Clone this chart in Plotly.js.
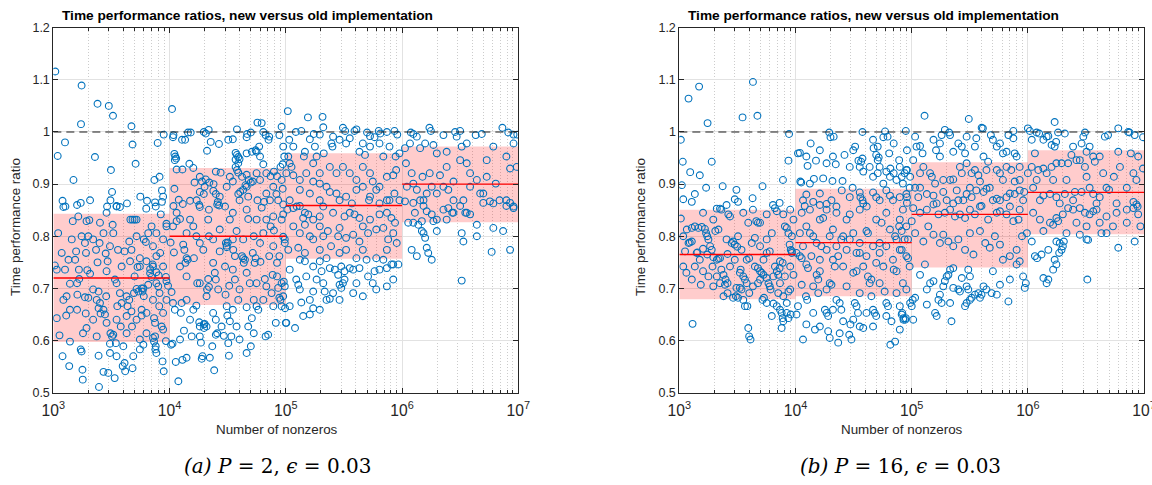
<!DOCTYPE html>
<html>
<head>
<meta charset="utf-8">
<script src="https://cdn.plot.ly/plotly-3.0.1.min.js"></script>
<style>
html,body{margin:0;padding:0;background:#fff;}
#chart{width:1152px;height:485px;}
</style>
</head>
<body>
<div id="chart"></div>
<script>
// ---------- data ----------
const chartTitle = "Time performance ratios, new versus old implementation";
const xLabel = "Number of nonzeros";
const yLabel = "Time performance ratio";
const captionA = "<i>(a) P</i> = 2, <i>ϵ</i> = 0.03";
const captionB = "<i>(b) P</i> = 16, <i>ϵ</i> = 0.03";

const binEdges = [1e3, 1e4, 1e5, 1e6, 1e7];
const refRatio = [1, 1];

const medianA = [0.720, 0.800, 0.859, 0.900];
const lowerA  = [0.597, 0.668, 0.757, 0.827];
const upperA  = [0.843, 0.931, 0.959, 0.972];

const medianB = [0.765, 0.788, 0.842, 0.884];
const lowerB  = [0.679, 0.685, 0.740, 0.804];
const upperB  = [0.851, 0.891, 0.942, 0.965];

// [nonzeros, ratio] for P = 2
const pointsA = [
[1.04e3,1.116],[1.75e3,1.089],[2.4e3,1.054],[3.0e3,1.050],[3.26e3,1.031],[1.73e3,1.015],[4.7e3,1.011],[1.09e3,0.954],[1.26e3,0.980],[2.28e3,0.952],
[3.13e3,0.927],[4.8e3,0.976],[5.1e3,0.939],[1.49e3,0.908],[3.2e3,0.885],[1.72e3,0.864],[1.2e3,0.868],[6.4e3,0.868],[7.4e3,0.908],[8.2e3,0.914],
[7.9e3,0.979],[8.9e3,0.995],[8.6e3,0.888],[8.8e3,0.876],[7.5e3,0.865],[2.9e3,0.857],[3.5e3,0.857],[1.27e3,0.857],[7.6e3,0.857],[8.6e3,0.866],
[1.05e4,1.044],[1.08e4,0.994],[1.07e4,0.990],[1.1e4,0.958],[1.12e4,0.953],[1.14e4,0.949],[1.11e4,0.946],[1.1e4,0.891],[1.15e4,0.928],[1.29e4,0.928],
[1.28e4,0.985],[1.36e4,0.985],[1.44e4,0.999],[1.52e4,0.999],[1.48e4,0.939],[1.6e4,0.931],[1.64e4,0.903],[1.82e4,0.914],[1.9e4,0.905],[2.05e4,0.909],
[2.2e4,0.903],[2.39e4,0.900],[1.97e4,1.0],[2.05e4,0.997],[2.17e4,1.004],[2.1e4,0.964],[2.26e4,0.981],[2.66e4,0.977],[2.38e4,0.887],[2.5e4,0.881],
[1.97e4,0.881],[2.5e4,0.924],[2.75e4,0.922],[3.2e4,0.985],[3.5e4,0.986],[3.8e4,1.005],[3.7e4,0.960],[3.8e4,0.956],[3.9e4,0.952],[3.7e4,0.947],
[4.0e4,0.948],[3.9e4,0.940],[3.7e4,0.933],[3.8e4,0.927],[3.9e4,0.922],[4.65e4,0.996],[4.6e4,0.990],[5.0e4,0.999],[4.6e4,0.959],[5.1e4,0.962],
[5.5e4,0.965],[4.2e4,0.914],[4.6e4,0.918],[4.8e4,0.908],[5.0e4,0.903],[4.5e4,0.898],[4.6e4,0.895],[4.3e4,0.889],[4.05e4,0.885],[3.9e4,0.881],
[5.7e4,1.018],[6.2e4,1.017],[6.4e4,1.0],[6.7e4,0.994],[7.2e4,0.991],[7.1e4,0.985],[5.9e4,0.972],[5.6e4,0.962],[6.0e4,0.953],[6.4e4,0.938],
[6.8e4,0.921],[7.4e4,0.915],[7.9e4,0.924],[8.4e4,0.915],[9.0e4,0.933],[9.4e4,0.938],[9.7e4,0.953],[9.2e4,1.010],[1.04e5,1.040],[5.7e4,0.869],
[6.5e4,0.866],[7.3e4,0.869],[8.3e4,0.881],[9.4e4,0.891],[8.8e4,0.994],[9.5e4,0.972],[1.3e4,0.862],[1.5e4,0.868],[1.8e4,0.860],[2.6e4,0.866],
[3.0e4,0.857],[1.08e4,0.858],[1.2e4,0.870],
[1.22e5,1.0],[1.36e5,1.002],[1.74e5,0.996],[1.96e5,0.995],[3.1e5,1.008],[3.24e5,1.002],[3.9e5,1.002],[4.05e5,1.005],[5.0e5,0.999],[5.3e5,0.992],
[6.3e5,1.002],[6.5e5,0.997],[7.4e5,1.0],[8.6e5,1.002],[9.1e5,0.995],[1.19e6,0.999],[1.25e6,0.996],[1.72e6,1.008],[1.77e6,1.002],[2.27e6,0.994],
[2.86e6,1.0],[3.16e6,1.002],[4.3e6,0.994],[4.85e6,0.996],[7.3e6,1.008],[8.2e6,0.999],[9.1e6,0.995],[9.8e6,0.995],[1.55e5,1.028],[2.07e5,1.029],
[2.1e5,1.009],
[1.07e5,0.985],[1.16e5,0.972],[1.05e5,0.953],[1.08e5,0.940],[1.01e5,0.921],[1.16e5,0.917],[1.12e5,0.933],[1.46e5,0.962],[1.43e5,0.953],[1.78e5,0.972],
[1.61e5,0.986],[1.84e5,0.953],[2.12e5,0.959],[2.47e5,0.978],[2.39e5,0.933],[2.55e5,0.991],[2.52e5,0.972],[2.9e5,0.985],[3.3e5,0.978],[3.55e5,0.988],
[4.3e5,0.962],[4.6e5,0.978],[4.8e5,0.956],[5.3e5,0.972],[5.8e5,0.990],[6.4e5,0.978],[6.9e5,0.953],[7.8e5,0.972],[9.5e5,0.959],[8.8e5,0.953],
[1.06e6,0.969],[1.17e6,0.978],[1.34e6,0.991],[1.43e6,0.969],[1.58e6,0.978],[1.86e6,0.975],[1.99e6,0.959],[2.42e6,0.962],[2.95e6,0.991],[3.26e6,0.972],
[3.6e6,0.978],[6.1e6,0.972],[9.1e6,0.978],
[1.72e5,0.940],[1.96e5,0.921],[1.5e5,0.921],[1.32e5,0.908],[1.72e5,0.905],[1.96e5,0.901],[2.24e5,0.895],[2.73e5,0.921],[3.1e5,0.933],[3.55e5,0.921],
[4.05e5,0.908],[4.6e5,0.933],[5.3e5,0.921],[5.6e5,0.905],[6.4e5,0.895],[7.4e5,0.914],[8.4e5,0.917],[8.9e5,0.927],[1.08e6,0.940],[1.21e6,0.921],
[1.25e6,0.901],[1.34e6,0.889],[1.5e6,0.914],[1.53e6,0.869],[1.63e6,0.882],[1.8e6,0.895],[1.99e6,0.882],[2.12e6,0.917],[2.42e6,0.933],[2.5e6,0.889],
[2.77e6,0.905],[3.16e6,0.946],[3.6e6,0.940],[3.85e6,0.895],[4.4e6,0.908],[4.7e6,0.882],[5.35e6,0.914],[6.1e6,0.863],[8.5e6,0.930],[9.7e6,0.933],
[9.1e6,0.857],[7.9e6,0.869],[1.32e5,0.889],[1.61e5,0.882],[2.39e5,0.885],[3.3e5,0.876],[4.05e5,0.889],[5.2e5,0.869],[6.4e5,0.863],[7.8e5,0.869],
[2.9e5,0.869],[1.96e5,0.869],
[1.03e3,0.744],[1.07e3,0.736],[1.07e3,0.643],[1.13e3,0.610],[1.22e3,0.856],[1.26e3,0.736],[1.22e3,0.678],[1.3e3,0.685],[1.29e3,0.648],[1.39e3,0.709],
[1.37e3,0.551],[1.2e3,0.570],[1.39e3,0.598],[1.47e3,0.829],[1.54e3,0.755],[1.57e3,0.771],[1.66e3,0.736],[1.67e3,0.718],[1.61e3,0.688],[1.72e3,0.583],
[1.75e3,0.579],[1.79e3,0.525],[1.78e3,0.544],[1.64e3,0.838],[1.93e3,0.829],[2.04e3,0.831],[1.91e3,0.768],[2.0e3,0.800],[1.96e3,0.735],[2.07e3,0.728],
[1.87e3,0.683],[2.0e3,0.682],[1.9e3,0.652],[1.93e3,0.624],[2.33e3,0.774],[2.4e3,0.750],[2.2e3,0.698],[2.36e3,0.678],[2.52e3,0.672],[2.45e3,0.662],
[2.7e3,0.659],[2.55e3,0.652],[2.45e3,0.694],[2.36e3,0.608],[2.45e3,0.571],[2.47e3,0.511],[2.52e3,0.826],[2.7e3,0.540],[2.87e3,0.845],[2.82e3,0.767],
[2.87e3,0.733],[2.93e3,0.752],[2.85e3,0.685],[2.78e3,0.650],[2.97e3,0.538],[3.24e3,0.822],[3.28e3,0.806],[3.5e3,0.858],[3.74e3,0.856],[3.39e3,0.717],
[3.5e3,0.710],[3.1e3,0.614],[3.28e3,0.611],[3.2e3,0.608],[3.07e3,0.594],[3.45e3,0.595],[3.5e3,0.570],[3.37e3,0.528],[3.74e3,0.691],[3.87e3,0.672],
[3.55e3,0.666],[3.87e3,0.742],[3.8e3,0.627],[4.0e3,0.589],[4.1e3,0.557],[4.15e3,0.541],[3.95e3,0.551],[4.27e3,0.685],[4.5e3,0.678],[4.35e3,0.666],
[4.5e3,0.790],[4.6e3,0.832],[4.8e3,0.832],[5.0e3,0.832],[5.2e3,0.832],[4.57e3,0.752],[4.7e3,0.656],[4.75e3,0.627],[4.87e3,0.570],[4.8e3,0.547],
[4.94e3,0.691],[5.2e3,0.699],[5.4e3,0.694],[5.3e3,0.741],[5.55e3,0.742],[5.0e3,0.723],[5.55e3,0.758],[5.75e3,0.700],[5.95e3,0.700],[5.85e3,0.694],
[6.0e3,0.685],[5.75e3,0.659],[5.75e3,0.648],[5.55e3,0.602],[5.95e3,0.592],[6.0e3,0.794],[6.25e3,0.789],[6.33e3,0.752],[6.55e3,0.707],[6.8e3,0.737],
[6.8e3,0.729],[7.0e3,0.722],[7.15e3,0.746],[7.2e3,0.742],[7.2e3,0.605],[7.5e3,0.608],[7.35e3,0.598],[7.6e3,0.589],[7.55e3,0.583],[7.7e3,0.576],
[7.35e3,0.643],[7.5e3,0.634],[7.7e3,0.710],[8.0e3,0.704],[7.7e3,0.731],[8.05e3,0.725],[8.3e3,0.768],[8.4e3,0.842],[8.15e3,0.666],[8.55e3,0.627],
[8.8e3,0.621],[8.8e3,0.653],[8.7e3,0.560],[8.9e3,0.541],[9.3e3,0.599],[9.4e3,0.714],[9.3e3,0.722],[9.4e3,0.824],[9.4e3,0.819],[9.7e3,0.705],
[1.02e4,0.788],[1.04e4,0.693],[1.03e4,0.592],[1.06e4,0.594],[1.07e4,0.672],[1.11e4,0.659],[1.09e4,0.769],[1.13e4,0.559],[1.19e4,0.522],[1.15e4,0.829],
[1.23e4,0.833],[1.23e4,0.742],[1.25e4,0.653],[1.27e4,0.672],[1.29e4,0.563],[1.33e4,0.619],[1.31e4,0.784],[1.34e4,0.774],[1.4e4,0.758],[1.43e4,0.755],
[1.37e4,0.749],[1.4e4,0.678],[1.4e4,0.567],[1.5e4,0.832],[1.5e4,0.640],[1.55e4,0.608],[1.6e4,0.819],[1.62e4,0.758],[1.73e4,0.710],[1.7e4,0.667],
[1.8e4,0.635],[1.82e4,0.627],[1.82e4,0.787],[1.86e4,0.596],[1.92e4,0.570],[1.89e4,0.565],[1.97e4,0.631],[1.98e4,0.624],[2.0e4,0.632],[2.08e4,0.627],
[2.08e4,0.685],[2.1e4,0.698],[2.18e4,0.703],[2.15e4,0.718],[2.18e4,0.800],[2.15e4,0.832],[2.18e4,0.851],[2.22e4,0.567],[2.33e4,0.589],[2.37e4,0.749],
[2.45e4,0.730],[2.42e4,0.543],[2.5e4,0.611],[2.57e4,0.614],[2.62e4,0.698],[2.67e4,0.859],[2.57e4,0.861],[2.7e4,0.771],[2.8e4,0.627],[2.93e4,0.609],
[3.03e4,0.688],[3.05e4,0.787],[3.1e4,0.782],[3.17e4,0.788],[3.1e4,0.779],[3.0e4,0.742],[3.1e4,0.666],[3.14e4,0.648],[3.2e4,0.595],[3.24e4,0.571],
[3.26e4,0.705],[3.3e4,0.832],[3.3e4,0.637],[3.4e4,0.608],[3.53e4,0.774],[3.65e4,0.762],[3.77e4,0.810],[3.65e4,0.717],[3.77e4,0.627],[3.9e4,0.678],
[4.0e4,0.698],[4.0e4,0.602],[4.2e4,0.762],[4.3e4,0.758],[4.45e4,0.755],[4.35e4,0.749],[4.6e4,0.576],[4.6e4,0.664],[4.75e4,0.627],[4.75e4,0.833],
[4.9e4,0.710],[5.0e4,0.589],[5.1e4,0.643],[5.2e4,0.768],[5.4e4,0.749],[5.5e4,0.758],[5.6e4,0.666],[5.8e4,0.659],[5.6e4,0.832],[6.0e4,0.787],
[6.05e4,0.751],[6.2e4,0.855],[6.4e4,0.678],[6.6e4,0.718],[6.7e4,0.608],[7.05e4,0.611],[6.8e4,0.832],[7.2e4,0.762],[7.4e4,0.819],[7.55e4,0.691],
[7.7e4,0.726],[7.9e4,0.811],[8.2e4,0.634],[8.4e4,0.749],[8.6e4,0.701],[8.8e4,0.682],[9.0e4,0.678],[9.2e4,0.832],[9.5e4,0.842],[9.6e4,0.713],
[9.8e4,0.794],[9.85e4,0.662],[9.5e4,0.861],
[9.5e4,0.799],[9.8e4,0.787],[9.2e4,0.710],[9.8e4,0.704],[9.5e4,0.685],[9.2e4,0.666],[1.0e5,0.634],[1.08e5,0.736],[1.03e5,0.851],[1.16e5,0.854],
[1.32e5,0.858],[1.46e5,0.845],[1.56e5,0.842],[1.41e5,0.835],[1.46e5,0.822],[1.72e5,0.832],[1.96e5,0.838],[2.55e5,0.845],[3.2e5,0.838],[3.55e5,0.845],
[3.9e5,0.842],[4.3e5,0.835],[5.3e5,0.832],[6.4e5,0.842],[7.4e5,0.845],[8.1e5,0.835],[8.7e5,0.826],[1.32e5,0.806],[1.61e5,0.800],[1.72e5,0.794],
[2.1e5,0.800],[2.3e5,0.810],[2.82e5,0.800],[3.3e5,0.797],[3.8e5,0.803],[4.3e5,0.790],[5.1e5,0.806],[6.0e5,0.813],[7.6e5,0.794],[9.0e5,0.787],
[1.05e5,0.774],[1.28e5,0.778],[1.46e5,0.768],[1.96e5,0.774],[2.45e5,0.781],[2.9e5,0.768],[3.3e5,0.774],[4.05e5,0.758],[4.95e5,0.755],[6.0e5,0.758],
[6.9e5,0.755],[8.1e5,0.746],[9.3e5,0.746],[1.46e5,0.752],[1.72e5,0.742],[1.96e5,0.752],[2.03e5,0.733],[2.39e5,0.739],[2.64e5,0.736],[3.0e5,0.742],
[3.2e5,0.733],[2.82e5,0.726],[3.55e5,0.739],[3.8e5,0.736],[4.3e5,0.739],[5.1e5,0.723],[5.8e5,0.733],[6.4e5,0.736],[7.4e5,0.739],[8.4e5,0.746],
[1.23e5,0.717],[1.28e5,0.707],[1.32e5,0.698],[1.72e5,0.694],[2.16e5,0.694],[2.9e5,0.707],[3.0e5,0.701],[3.2e5,0.717],[3.1e5,0.710],[1.08e5,0.666],
[1.36e5,0.673],[1.61e5,0.678],[1.72e5,0.662],[1.96e5,0.659],[2.24e5,0.678],[2.39e5,0.680],[2.9e5,0.678],[1.41e5,0.647],[1.61e5,0.650],[1.2e5,0.624],
[1.01e5,0.634],
[1.13e6,0.826],[1.25e6,0.826],[1.38e6,0.822],[1.48e6,0.810],[1.53e6,0.806],[1.58e6,0.797],[1.86e6,0.829],[1.99e6,0.810],[2.42e6,0.832],[2.77e6,0.845],
[3.26e6,0.806],[3.37e6,0.790],[3.6e6,0.845],[4.4e6,0.822],[6.1e6,0.816],[7.4e6,0.810],[8.5e6,0.774],[1.21e6,0.774],[1.34e6,0.762],[1.63e6,0.778],
[1.68e6,0.768],[1.8e6,0.755],[4.4e6,0.800],[5.9e6,0.770],[3.26e6,0.715],[1.06e6,0.867],[1.25e6,0.864],[1.53e6,0.858],[1.63e6,0.848],[1.8e6,0.842],
[1.99e6,0.832],[2.27e6,0.851],[2.5e6,0.854],[2.7e6,0.845],[3.16e6,0.858],[3.5e6,0.845],[3.85e6,0.842],[5.0e6,0.864],[5.7e6,0.867],[7.9e6,0.858],
[9.1e6,0.854],[8.5e6,0.864],[1.29e6,0.845],[1.48e6,0.829],
[1.71e4,0.869],[1.82e4,0.885],[2.0e4,0.895],[2.7e4,0.876],[3.1e4,0.895],[3.3e4,0.914],[3.5e4,0.905],[4.0e4,0.869],[4.75e4,0.876],[5.2e4,0.905],
[5.6e4,0.921],[6.0e4,0.908],[6.8e4,0.882],[7.8e4,0.895],[8.6e4,0.869],[9.2e4,0.908],[3.1e3,0.869],[4.3e3,0.863],[5.6e3,0.876],[6.3e3,0.853],
[2.07e3,0.869],[1.6e3,0.860],
[1.1e3,0.806],[1.18e3,0.768],[1.35e3,0.755],[1.44e3,0.794],[1.75e3,0.800],[1.87e3,0.787],[2.2e3,0.794],[2.5e3,0.787],[2.7e3,0.806],[3.07e3,0.781],
[3.6e3,0.774],[4.1e3,0.771],[4.7e3,0.774],[5.2e3,0.800],[6.55e3,0.806],[7.2e3,0.781],[7.7e3,0.806],[8.8e3,0.794],[7.0e3,0.819],[7.7e3,0.762],
[8.8e3,0.742],[9.4e3,0.678],[8.2e3,0.691],[7.2e3,0.678],[6.33e3,0.653],[5.2e3,0.640],[4.27e3,0.647],[3.5e3,0.640],[2.87e3,0.634],[2.2e3,0.640],
[1.6e3,0.659],[1.39e3,0.659],[1.8e3,0.614],[3.07e3,0.576],[4.27e3,0.614],[6.33e3,0.614],[5.55e3,0.583],[1.6e3,0.710],
[1.07e4,0.819],[1.4e4,0.806],[1.7e4,0.800],[1.95e4,0.774],[2.37e4,0.794],[2.7e4,0.813],[3.5e4,0.794],[4.3e4,0.794],[5.3e4,0.800],[6.4e4,0.806],
[7.8e4,0.781],[8.8e4,0.762],[1.4e4,0.723],[1.82e4,0.710],[2.5e4,0.717],[3.5e4,0.736],[4.6e4,0.730],[5.6e4,0.710],[6.8e4,0.704],[8.4e4,0.723],
[1.6e4,0.659],[2.37e4,0.653],[3.5e4,0.659],[5.3e4,0.678],[7.8e4,0.666],[2.5e4,0.640],[5.3e4,0.614],[1.82e4,0.608],[1.23e4,0.602],[1.15e4,0.845],
[1.82e4,0.856],[3.5e4,0.845],[4.6e4,0.851],[7.8e4,0.838],
[1.16e5,0.819],[1.96e5,0.819],[2.9e5,0.816],[4.6e5,0.819],[6.9e5,0.816],[8.4e5,0.806],[1.32e5,0.755],[2.24e5,0.758],[4.6e5,0.774],[7.4e5,0.774],
[1.5e5,0.723],[4.05e5,0.710],[5.6e5,0.710],[2.1e5,0.710],[2.55e5,0.691],[3.8e5,0.691],[4.6e5,0.685],[6.0e5,0.698],[7.4e5,0.704],[8.4e5,0.717],
[1.84e5,0.717],[1.08e5,0.869],[1.24e5,0.857],[2.1e5,0.857],[2.73e5,0.882],[3.7e5,0.863],[4.6e5,0.895],[5.3e5,0.876],[6.0e5,0.889],[7.4e5,0.869],
[8.6e5,0.882],[9.5e5,0.869],
[1.1e6,0.895],[1.43e6,0.869],[1.73e6,0.921],[2.27e6,0.895],[3.37e6,0.869],[3.85e6,0.921],[5.0e6,0.882],[6.4e6,0.901],[7.9e6,0.953],[6.9e6,0.869],
[5.35e6,0.946],[2.77e6,0.869]
];

// [nonzeros, ratio] for P = 16
const pointsB = [
[1.03e3,0.985],[1.2e3,1.064],[1.48e3,1.087],[1.75e3,1.017],[1.07e3,0.943],[1.9e3,0.943],[1.24e3,0.923],[1.5e3,0.917],[1.05e3,0.898],[1.08e3,0.871],
[1.36e3,0.881],[1.28e3,0.866],[1.7e3,0.893],[2.36e3,0.896],[3.1e3,0.889],[3.0e3,0.871],[3.2e3,0.866],[4.27e3,0.873],[3.5e3,1.028],[4.3e3,1.096],
[4.7e3,1.031],[5.2e3,0.896],[7.3e3,0.864],[7.8e3,0.908],[8.8e3,0.996],[8.7e3,0.945],[2.1e3,0.853],[2.3e3,0.851],[2.55e3,0.860],[6.4e3,0.860],
[9.0e3,0.851],
[1.05e4,0.959],[1.09e4,0.960],[1.1e4,0.905],[1.12e4,0.903],[1.27e4,0.935],[1.35e4,0.978],[1.5e4,0.945],[1.44e4,0.910],[1.73e4,0.911],[1.95e4,0.999],
[2.0e4,0.990],[2.13e4,0.991],[1.85e4,0.940],[2.22e4,0.938],[2.08e4,0.906],[2.54e4,0.906],[2.64e4,0.956],[3.26e4,0.972],[3.77e4,1.0],[3.48e4,0.945],
[3.67e4,0.943],[3.57e4,0.933],[3.83e4,0.924],[3.77e4,0.949],[4.65e4,0.985],[4.7e4,0.969],[4.95e4,0.956],[5.2e4,0.951],[5.1e4,0.946],[5.1e4,0.972],
[5.9e4,1.001],[6.2e4,0.991],[5.7e4,0.990],[7.0e4,0.978],[6.4e4,0.959],[5.3e4,0.933],[5.1e4,0.921],[6.05e4,0.924],[6.55e4,0.930],[7.0e4,0.921],
[6.5e4,0.914],[7.9e4,0.933],[8.2e4,0.914],[8.7e4,0.921],[9.0e4,0.927],[8.9e4,1.002],[9.1e4,0.965],[7.8e4,0.946],[7.4e4,0.908],[8.4e4,0.901],
[1.24e4,0.880],[1.42e4,0.866],[1.62e4,0.860],[1.85e4,0.862],[2.04e4,0.869],[2.25e4,0.857],[3.1e4,0.893],[3.57e4,0.884],[3.62e4,0.875],[3.77e4,0.869],
[3.83e4,0.863],[4.1e4,0.857],[4.65e4,0.884],[4.95e4,0.875],[5.3e4,0.869],[6.05e4,0.888],[6.5e4,0.878],[6.9e4,0.869],[7.9e4,0.875],[9.0e4,0.881],
[9.6e4,0.893],
[1.29e5,1.031],[3.1e5,1.025],[1.7e6,1.019],[6.0e6,1.007],[1.93e5,1.004],[2.1e5,0.999],[4.0e5,1.008],[4.1e5,1.007],[4.8e5,0.994],[6.8e5,0.994],
[7.5e5,1.002],[1.0e6,1.007],[1.04e6,1.002],[1.19e6,0.999],[1.25e6,0.997],[1.5e6,0.992],[1.82e6,0.999],[2.08e6,0.997],[3.1e6,0.999],[3.0e6,0.991],
[4.6e6,0.991],[4.9e6,0.994],[7.5e6,0.999],[7.3e6,1.0],[8.3e6,0.994],[9.8e6,0.990],
[1.07e5,0.991],[1.1e5,0.972],[1.18e5,0.973],[1.24e5,0.959],[1.54e5,0.985],[1.62e5,0.965],[1.75e5,0.978],[1.81e5,0.994],[2.14e5,0.994],[2.28e5,0.962],
[2.52e5,0.978],[2.7e5,0.972],[2.88e5,0.959],[2.97e5,0.991],[3.5e5,0.972],[3.6e5,0.988],[5.0e5,0.985],[5.4e5,0.972],[5.75e5,0.978],[6.1e5,0.959],
[6.55e5,0.962],[7.5e5,0.988],[7.7e5,0.959],[8.0e5,0.953],[1.08e6,0.985],[1.15e6,0.959],[1.36e6,0.985],[1.45e6,0.991],[1.6e6,0.975],[1.7e6,0.972],
[1.75e6,0.981],[2.45e6,0.972],[2.9e6,0.978],[3.4e6,0.972],[3.2e6,0.962],[3.65e6,0.953],
[1.03e5,0.946],[9.1e4,0.927],[9.7e4,0.914],[1.18e5,0.921],[1.44e5,0.921],[1.49e5,0.914],[1.59e5,0.901],[2.14e5,0.908],[2.28e5,0.909],[2.6e5,0.933],
[2.7e5,0.921],[2.97e5,0.940],[3.28e5,0.921],[3.5e5,0.927],[3.75e5,0.917],[4.4e5,0.927],[4.55e5,0.943],[5.4e5,0.927],[5.75e5,0.921],[6.55e5,0.933],
[7.2e5,0.927],[7.7e5,0.905],[8.5e5,0.908],[9.3e5,0.885],[1.0e6,0.921],[1.08e6,0.933],[1.23e6,0.927],[1.19e6,0.908],[1.36e6,0.930],[1.45e6,0.921],
[1.6e6,0.933],[1.76e6,0.940],[1.95e6,0.940],[2.22e6,0.940],[2.37e6,0.956],[2.62e6,0.946],[2.8e6,0.946],[3.1e6,0.933],[3.2e6,0.914],[3.77e6,0.943],
[4.15e6,0.953],[4.45e6,0.921],[6.0e6,0.962],[8.9e6,0.953],[8.6e6,0.908],[9.8e6,0.930],
[9.1e4,0.875],[1.07e5,0.893],[1.14e5,0.875],[1.35e5,0.881],[1.54e5,0.878],[1.87e5,0.885],[2.0e5,0.869],[2.28e5,0.863],[2.52e5,0.869],[2.97e5,0.881],
[3.28e5,0.875],[3.6e5,0.888],[4.15e5,0.885],[4.4e5,0.891],[5.4e5,0.872],[5.75e5,0.869],[6.55e5,0.875],[7.7e5,0.881],[8.5e5,0.888],[1.36e6,0.878],
[1.55e6,0.881],[1.76e6,0.875],[1.88e6,0.863],[2.08e6,0.881],[2.54e6,0.885],[2.9e6,0.885],[3.65e6,0.881],[3.9e6,0.863],[4.15e6,0.875],[5.0e6,0.889],
[5.8e6,0.863],[8.1e6,0.866],[8.8e6,0.857],
[1.03e3,0.834],[1.12e3,0.771],[1.3e3,0.632],[1.2e3,0.787],[1.23e3,0.788],[1.28e3,0.790],[1.16e3,0.813],[1.28e3,0.816],[1.36e3,0.819],[1.46e3,0.816],
[1.56e3,0.818],[1.66e3,0.814],[1.53e3,0.707],[1.41e3,0.768],[1.43e3,0.769],[1.6e3,0.776],[1.74e3,0.765],[1.84e3,0.781],[1.9e3,0.774],[1.7e3,0.806],
[1.74e3,0.800],[1.78e3,0.794],[1.93e3,0.742],[1.96e3,0.760],[2.1e3,0.755],[2.17e3,0.757],[2.24e3,0.758],[2.04e3,0.810],[2.17e3,0.813],[2.24e3,0.853],
[2.3e3,0.736],[2.4e3,0.726],[2.5e3,0.717],[2.47e3,0.707],[2.6e3,0.710],[2.6e3,0.691],[2.6e3,0.766],[2.73e3,0.838],[2.64e3,0.842],[2.82e3,0.787],
[2.9e3,0.790],[3.0e3,0.784],[3.15e3,0.780],[2.9e3,0.682],[3.07e3,0.685],[3.2e3,0.682],[3.1e3,0.701],[3.32e3,0.701],[3.43e3,0.698],[3.32e3,0.730],
[3.55e3,0.723],[3.37e3,0.736],[3.67e3,0.717],[3.8e3,0.710],[3.8e3,0.755],[3.99e3,0.758],[3.92e3,0.624],[3.99e3,0.608],[4.1e3,0.602],[3.85e3,0.666],
[3.67e3,0.666],[3.92e3,0.826],[4.6e3,0.829],[4.75e3,0.826],[4.95e3,0.826],[4.47e3,0.742],[4.75e3,0.739],[4.95e3,0.733],[5.1e3,0.730],[5.3e3,0.726],
[4.75e3,0.710],[4.95e3,0.717],[5.2e3,0.678],[5.35e3,0.682],[5.65e3,0.768],[6.0e3,0.771],[5.65e3,0.720],[5.85e3,0.710],[6.0e3,0.704],[6.1e3,0.698],
[5.65e3,0.672],[6.45e3,0.671],[6.25e3,0.647],[6.65e3,0.854],[6.9e3,0.848],[6.9e3,0.666],[7.35e3,0.659],[7.6e3,0.653],[7.75e3,0.643],[7.85e3,0.637],
[7.6e3,0.624],[6.65e3,0.742],[6.9e3,0.733],[7.1e3,0.726],[7.3e3,0.739],[7.35e3,0.752],[7.75e3,0.749],[8.1e3,0.819],[8.4e3,0.816],[8.7e3,0.806],
[8.7e3,0.694],[9.0e3,0.698],[8.9e3,0.784],[9.1e3,0.774],[9.3e3,0.771],[9.3e3,0.768],[8.4e3,0.653],[8.7e3,0.643],[9.1e3,0.650],[9.6e3,0.726],
[1.02e4,0.768],[1.09e4,0.762],[1.13e4,0.758],[1.05e4,0.666],[1.02e4,0.650],[1.13e4,0.845],[1.2e4,0.858],[1.13e4,0.707],[1.16e4,0.602],[1.23e4,0.685],
[1.26e4,0.678],[1.24e4,0.631],[1.24e4,0.746],[1.28e4,0.739],[1.33e4,0.806],[1.42e4,0.800],[1.47e4,0.621],[1.52e4,0.726],[1.57e4,0.717],[1.62e4,0.733],
[1.57e4,0.691],[1.62e4,0.832],[1.73e4,0.835],[1.85e4,0.851],[1.67e4,0.781],[1.79e4,0.659],[1.85e4,0.653],[1.91e4,0.647],[1.91e4,0.618],[1.97e4,0.605],
[1.97e4,0.710],[2.04e4,0.707],[2.1e4,0.755],[2.18e4,0.742],[2.25e4,0.678],[2.33e4,0.596],[2.4e4,0.672],[2.48e4,0.659],[2.57e4,0.637],[2.48e4,0.794],
[2.57e4,0.800],[2.75e4,0.832],[2.93e4,0.842],[2.9e4,0.611],[2.97e4,0.631],[3.14e4,0.730],[3.35e4,0.733],[3.03e4,0.602],[3.24e4,0.672],[3.35e4,0.666],
[3.45e4,0.653],[3.57e4,0.768],[3.57e4,0.627],[3.83e4,0.624],[4.08e4,0.810],[4.2e4,0.806],[4.2e4,0.723],[4.35e4,0.710],[4.5e4,0.717],[4.5e4,0.685],
[4.65e4,0.659],[4.8e4,0.653],[4.95e4,0.647],[4.95e4,0.832],[5.5e4,0.826],[5.3e4,0.787],[5.7e4,0.742],[5.85e4,0.694],[6.05e4,0.672],[6.25e4,0.666],
[6.55e4,0.592],[7.2e4,0.598],[6.7e4,0.637],[7.0e4,0.736],[7.4e4,0.733],[7.2e4,0.800],[7.4e4,0.794],[7.8e4,0.819],[8.2e4,0.810],[8.3e4,0.653],
[8.5e4,0.640],[8.9e4,0.643],[8.4e4,0.710],[9.0e4,0.698],[9.0e4,0.762],[9.3e4,0.758],[9.6e4,0.742],
[7.9e4,0.832],[1.0e5,0.829],[8.2e4,0.774],[8.5e4,0.643],[8.8e4,0.640],[8.2e4,0.650],[9.7e4,0.672],[1.0e5,0.666],[1.02e5,0.678],[1.03e5,0.640],
[1.07e5,0.682],[1.18e5,0.726],[1.3e5,0.746],[1.35e5,0.698],[1.35e5,0.669],[1.44e5,0.710],[1.54e5,0.714],[1.59e5,0.653],[1.64e5,0.647],[1.7e5,0.678],
[1.75e5,0.688],[1.81e5,0.672],[1.87e5,0.704],[1.93e5,0.714],[2.0e5,0.723],[2.07e5,0.726],[2.14e5,0.672],[2.2e5,0.637],[2.14e5,0.736],[2.28e5,0.739],
[2.28e5,0.701],[2.52e5,0.698],[2.6e5,0.694],[2.7e5,0.720],[2.88e5,0.666],[2.97e5,0.672],[2.97e5,0.704],[3.07e5,0.698],[3.07e5,0.736],[3.17e5,0.723],
[3.17e5,0.678],[3.28e5,0.682],[3.5e5,0.688],[3.75e5,0.691],[3.87e5,0.682],[3.99e5,0.688],[4.15e5,0.704],[4.4e5,0.698],[4.87e5,0.691],[5.4e5,0.688],
[5.0e5,0.733],[5.75e5,0.707],[6.8e5,0.675],[7.0e5,0.717],[8.0e5,0.746],[9.1e5,0.723],[9.6e5,0.710],[9.4e5,0.701],[9.8e5,0.806],
[9.1e4,0.864],[1.03e5,0.854],[1.18e5,0.845],[1.35e5,0.851],[1.54e5,0.861],[1.7e5,0.842],[1.93e5,0.845],[2.14e5,0.851],[2.36e5,0.838],[2.6e5,0.842],
[2.88e5,0.835],[3.17e5,0.851],[3.5e5,0.842],[3.99e5,0.858],[4.55e5,0.832],[5.4e5,0.845],[5.75e5,0.848],[6.55e5,0.842],[7.5e5,0.829],[8.3e5,0.832],
[8.5e5,0.851],
[9.3e4,0.794],[1.07e5,0.806],[1.26e5,0.790],[1.39e5,0.819],[1.54e5,0.803],[1.75e5,0.787],[1.87e5,0.803],[2.07e5,0.790],[2.28e5,0.781],[2.52e5,0.794],
[2.88e5,0.774],[3.17e5,0.806],[3.4e5,0.765],[3.87e5,0.810],[4.3e5,0.787],[4.7e5,0.778],[5.2e5,0.800],[5.75e5,0.784],[6.1e5,0.755],[7.0e5,0.762],
[8.0e5,0.774],[8.9e5,0.800],[8.5e5,0.752],
[1.08e6,0.790],[1.15e6,0.762],[1.2e6,0.758],[1.31e6,0.765],[1.36e6,0.720],[1.45e6,0.710],[1.5e6,0.717],[1.5e6,0.774],[1.65e6,0.736],[1.7e6,0.755],
[1.76e6,0.746],[1.86e6,0.768],[1.95e6,0.774],[2.0e6,0.781],[2.04e6,0.790],[1.76e6,0.790],[1.88e6,0.787],[2.15e6,0.806],[2.8e6,0.803],[3.2e6,0.794],
[3.3e6,0.793],[3.25e6,0.717],[6.0e6,0.778],[8.3e6,0.790],[1.36e6,0.810],[1.55e6,0.826],[1.65e6,0.822],[1.76e6,0.835],[1.82e6,0.829],[2.0e6,0.842],
[2.22e6,0.854],[2.45e6,0.851],[2.8e6,0.854],[3.1e6,0.845],[3.4e6,0.842],[3.65e6,0.848],[3.9e6,0.851],[4.3e6,0.806],[4.75e6,0.838],[5.8e6,0.845],
[7.1e6,0.851],[8.1e6,0.854],[8.9e6,0.842],[8.6e6,0.861],
[1.08e3,0.800],[1.08e3,0.742],[1.15e3,0.730],[1.28e3,0.717],[1.36e3,0.742],[1.5e3,0.755],[1.6e3,0.733],[1.78e3,0.723],[1.96e3,0.704],[2.1e3,0.723],
[2.24e3,0.710],[2.4e3,0.685],[2.55e3,0.794],[2.73e3,0.742],[3.0e3,0.755],[3.2e3,0.800],[3.43e3,0.774],[3.55e3,0.678],[4.0e3,0.691],[4.3e3,0.704],
[4.2e3,0.787],[4.47e3,0.797],[4.95e3,0.781],[5.3e3,0.755],[5.65e3,0.794],[6.25e3,0.806],[6.45e3,0.723],[7.1e3,0.691],[7.35e3,0.710],[7.85e3,0.685],
[8.1e3,0.723],[8.4e3,0.672],[9.0e3,0.742],[9.3e3,0.800],[9.6e3,0.832],[7.85e3,0.842],[5.65e3,0.842],[4.3e3,0.851],[3.55e3,0.845],[1.96e3,0.832],
[1.6e3,0.845],
[1.09e4,0.806],[1.16e4,0.781],[1.24e4,0.819],[1.37e4,0.762],[1.52e4,0.787],[1.62e4,0.755],[1.85e4,0.774],[1.97e4,0.800],[2.1e4,0.813],[2.25e4,0.781],
[2.33e4,0.762],[2.57e4,0.742],[2.75e4,0.774],[2.93e4,0.794],[3.14e4,0.806],[3.35e4,0.768],[3.57e4,0.787],[3.83e4,0.742],[4.08e4,0.762],[4.65e4,0.781],
[4.95e4,0.749],[5.3e4,0.768],[6.05e4,0.781],[6.5e4,0.813],[6.9e4,0.755],[7.9e4,0.774],[8.7e4,0.794],[9.0e4,0.819],[1.42e4,0.704],[1.85e4,0.698],
[2.75e4,0.704],[3.57e4,0.691],[5.3e4,0.710],[7.4e4,0.691],[1.42e4,0.653],[2.1e4,0.659],[3.14e4,0.640],[4.08e4,0.653],[6.05e4,0.647],[7.9e4,0.666],
[1.62e4,0.627],[2.4e4,0.614],[4.65e4,0.627],[7.9e4,0.621],[1.33e4,0.851],[2.25e4,0.845],[3.57e4,0.851],[6.05e4,0.845],[8.4e4,0.851],
[1.24e4,0.953],[1.62e4,0.965],[2.1e4,0.953],[2.93e4,0.933],[3.14e4,0.965],[4.35e4,0.933],[4.65e4,0.914],[5.7e4,0.901],[2.93e4,0.875],[2.5e4,0.888],
[1.62e4,0.882],[1.33e4,0.901],[1.16e4,0.869],
[1.18e5,0.893],[1.26e5,0.933],[1.75e5,0.953],[1.87e5,0.908],[2.44e5,0.888],[2.78e5,0.869],[3.17e5,0.893],[3.87e5,0.905],[4.15e5,0.953],[4.7e5,0.893],
[5.0e5,0.869],[6.1e5,0.908],[7.0e5,0.882],[8.5e5,0.933],[9.1e5,0.869],[1.64e5,0.863],[3.87e5,0.857],[7.0e5,0.857],
[1.11e6,0.893],[1.27e6,0.869],[1.65e6,0.908],[2.15e6,0.908],[2.45e6,0.869],[3.4e6,0.893],[4.75e6,0.893],[5.5e6,0.914],[7.1e6,0.893],[8.1e6,0.921],
[6.2e6,0.933],[7.7e6,0.959],
[1.11e6,0.845],[1.27e6,0.832],[2.62e6,0.826],[4.15e6,0.826],[5.4e6,0.819],[7.1e6,0.826],[9.3e6,0.819],[3.2e6,0.819],[4.75e6,0.806]
];

// ---------- helpers ----------
const blue = '#0072BD';
const ink = '#262626';
const fontSans = 'Liberation Sans, Arial, Helvetica, sans-serif';

function bandTraces(lower, upper, median, xa, ya) {
  const tr = [];
  for (let i = 0; i < median.length; i++) {
    const x0 = binEdges[i], x1 = binEdges[i + 1];
    tr.push({
      x: [x0, x1, x1, x0, x0], y: [lower[i], lower[i], upper[i], upper[i], lower[i]],
      xaxis: xa, yaxis: ya, mode: 'lines', fill: 'toself',
      fillcolor: 'rgba(255,0,0,0.2)', line: {width: 0}, hoverinfo: 'skip', showlegend: false
    });
  }
  return tr;
}
function medianTraces(median, xa, ya) {
  const tr = [];
  for (let i = 0; i < median.length; i++) {
    tr.push({
      x: [binEdges[i], binEdges[i + 1]], y: [median[i], median[i]],
      xaxis: xa, yaxis: ya, mode: 'lines', line: {color: '#ff0000', width: 1.3},
      hoverinfo: 'skip', showlegend: false
    });
  }
  return tr;
}
function scatterTrace(pts, xa, ya) {
  return {
    x: pts.map(p => p[0]), y: pts.map(p => p[1]), xaxis: xa, yaxis: ya,
    mode: 'markers', type: 'scatter',
    marker: {symbol: 'circle-open', size: 6.8, color: blue, line: {width: 1.1, color: blue}},
    showlegend: false
  };
}
function refTrace(xa, ya) {
  return {
    x: [binEdges[0], binEdges[binEdges.length - 1]], y: refRatio, xaxis: xa, yaxis: ya,
    mode: 'lines', line: {color: '#1a1a1a', width: 1.1, dash: '8px,5px'},
    hoverinfo: 'skip', showlegend: false
  };
}

const data = [].concat(
  bandTraces(lowerA, upperA, medianA, 'x', 'y'),
  [scatterTrace(pointsA, 'x', 'y')],
  medianTraces(medianA, 'x', 'y'),
  [refTrace('x', 'y')],
  bandTraces(lowerB, upperB, medianB, 'x2', 'y2'),
  [scatterTrace(pointsB, 'x2', 'y2')],
  medianTraces(medianB, 'x2', 'y2'),
  [refTrace('x2', 'y2')]
);

function xAxis(domain, anchor) {
  return {
    type: 'log', range: [3, 7], domain: domain, anchor: anchor,
    dtick: 1, exponentformat: 'power', ticklabeloverflow: 'allow', ticklabelstandoff: 4,
    showline: true, linecolor: ink, linewidth: 1, mirror: 'ticks',
    ticks: 'inside', ticklen: 5, tickcolor: ink, tickwidth: 1,
    tickfont: {family: fontSans, size: 12.5, color: ink},
    showgrid: true, gridcolor: '#e2e2e2', gridwidth: 1, zeroline: false,
    minor: {dtick: 'D1', ticks: 'inside', ticklen: 3, tickcolor: ink,
            showgrid: true, gridcolor: '#cccccc', griddash: '1px,2px', gridwidth: 1},
    fixedrange: true
  };
}
function yAxis(anchor) {
  return {
    range: [0.5, 1.2], dtick: 0.1, tick0: 0.5, domain: [0.1903, 0.9429], anchor: anchor,
    showline: true, linecolor: ink, linewidth: 1, mirror: 'ticks',
    ticks: 'inside', ticklen: 5, tickcolor: ink, tickwidth: 1,
    tickfont: {family: fontSans, size: 12.5, color: ink},
    showgrid: true, gridcolor: '#e2e2e2', gridwidth: 1, zeroline: false,
    fixedrange: true
  };
}

const labelFont = {family: fontSans, size: 13.4, color: ink};
const captionFont = {family: 'DejaVu Serif, Liberation Serif, serif', size: 20, color: '#000'};
const titleFont = {family: fontSans, size: 13.7, color: '#000'};

const layout = {
  width: 1152, height: 485,
  margin: {l: 0, r: 0, t: 0, b: 0},
  paper_bgcolor: '#ffffff', plot_bgcolor: '#ffffff',
  showlegend: false,
  xaxis: xAxis([0.0463, 0.4499], 'y'),
  yaxis: yAxis('x'),
  xaxis2: xAxis([0.5897, 0.9931], 'y2'),
  yaxis2: yAxis('x2'),
  annotations: [
    {text: '<b>' + chartTitle + '</b>', xref: 'paper', yref: 'paper', x: 60 / 1152, y: 1 - 15 / 485,
     xanchor: 'left', yanchor: 'middle', showarrow: false, font: titleFont},
    {text: '<b>' + chartTitle + '</b>', xref: 'paper', yref: 'paper', x: 686 / 1152, y: 1 - 15 / 485,
     xanchor: 'left', yanchor: 'middle', showarrow: false, font: titleFont},
    {text: xLabel, xref: 'paper', yref: 'paper', x: 277 / 1152, y: 1 - 429 / 485,
     xanchor: 'center', yanchor: 'middle', showarrow: false, font: labelFont},
    {text: xLabel, xref: 'paper', yref: 'paper', x: 902 / 1152, y: 1 - 429 / 485,
     xanchor: 'center', yanchor: 'middle', showarrow: false, font: labelFont},
    {text: yLabel, xref: 'paper', yref: 'paper', x: 15 / 1152, y: 1 - 227 / 485, textangle: -90,
     xanchor: 'center', yanchor: 'middle', showarrow: false, font: labelFont},
    {text: yLabel, xref: 'paper', yref: 'paper', x: 640 / 1152, y: 1 - 227 / 485, textangle: -90,
     xanchor: 'center', yanchor: 'middle', showarrow: false, font: labelFont},
    {text: captionA, xref: 'paper', yref: 'paper', x: 277 / 1152, y: 1 - 466 / 485,
     xanchor: 'center', yanchor: 'middle', showarrow: false, font: captionFont},
    {text: captionB, xref: 'paper', yref: 'paper', x: 900 / 1152, y: 1 - 466 / 485,
     xanchor: 'center', yanchor: 'middle', showarrow: false, font: captionFont}
  ]
};

Plotly.newPlot('chart', data, layout, {staticPlot: true, displayModeBar: false});
</script>
</body>
</html>
